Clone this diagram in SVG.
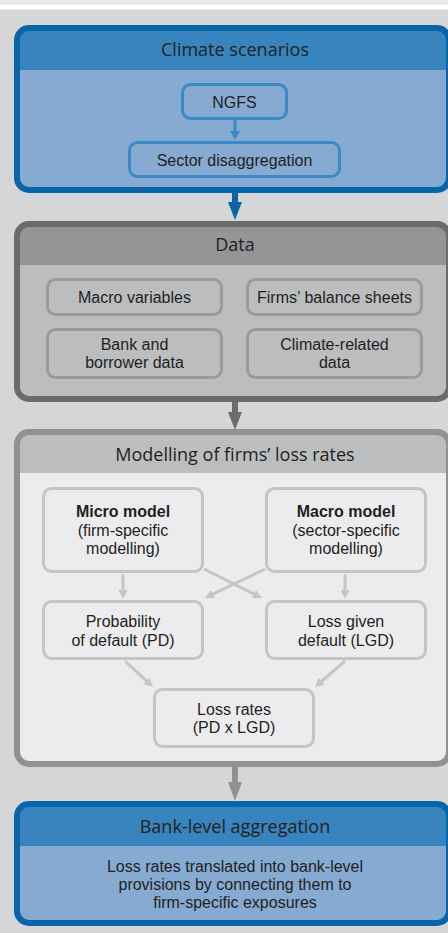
<svg xmlns="http://www.w3.org/2000/svg" width="448" height="933" viewBox="0 0 448 933">
<style>
text{font-family:"Liberation Sans",Arial,sans-serif;fill:#231f20;text-anchor:middle}
.t{font-family:"Open Sans","Noto Sans",sans-serif;font-size:18px}
.b{font-size:16px}
.s{font-weight:bold}
.blue-in{fill:#87aad3;stroke:#3a8ac8;stroke-width:3}
.gray-in{fill:#bcbdbf;stroke:#9a9b9d;stroke-width:3}
.light-in{fill:#ececee;stroke:#c4c5c7;stroke-width:3}
.inner{stroke:#c4c5c7;stroke-width:3;fill:none;marker-end:url(#ah)}
</style>
<defs>
<marker id="ah" viewBox="0 0 10 10" markerUnits="userSpaceOnUse" markerWidth="9" markerHeight="9" refX="4" refY="5" orient="auto">
<path d="M0,0 L10,5 L0,10 z" fill="#c4c5c7"/>
</marker>
</defs>
<rect x="0" y="0" width="448" height="933" fill="#d5d6d8"/>
<rect x="0" y="0" width="448" height="5" fill="#e9e9eb"/>
<rect x="0" y="5" width="448" height="4.5" fill="#ffffff"/>

<g id="climate-scenarios">
<rect x="17" y="28" width="432" height="162" rx="12" fill="#87aad3"/>
<path d="M17,70 V40 A12,12 0 0 1 29,28 H437 A12,12 0 0 1 449,40 V70 Z" fill="#3784be"/>
<rect x="17" y="28" width="432" height="162" rx="12" fill="none" stroke="#0a64a8" stroke-width="6"/>
<text class="t" x="235" y="56">Climate scenarios</text>
</g>
<g id="ngfs">
<rect class="blue-in" x="182.5" y="84.5" width="104" height="34" rx="8"/>
<text class="b" x="234.5" y="108">NGFS</text>
</g>
<g id="sector-disaggregation">
<rect class="blue-in" x="129.5" y="142.5" width="210" height="34" rx="8"/>
<text class="b" x="234.5" y="166">Sector disaggregation</text>
</g>

<g id="data">
<rect x="17" y="224" width="432" height="175" rx="12" fill="#bcbdbf"/>
<path d="M17,265 V236 A12,12 0 0 1 29,224 H437 A12,12 0 0 1 449,236 V265 Z" fill="#949597"/>
<rect x="17" y="224" width="432" height="175" rx="12" fill="none" stroke="#6a6b6d" stroke-width="6"/>
<text class="t" x="235" y="251">Data</text>
</g>
<g id="macro-variables">
<rect class="gray-in" x="47.5" y="279.5" width="174" height="35" rx="8"/>
<text class="b" x="134.5" y="303">Macro variables</text>
</g>
<g id="firms-balance-sheets">
<rect class="gray-in" x="247.5" y="279.5" width="174" height="35" rx="8"/>
<text class="b" x="334.5" y="303">Firms’ balance sheets</text>
</g>
<g id="bank-borrower-data">
<rect class="gray-in" x="47.5" y="329.5" width="174" height="48" rx="8"/>
<text class="b" x="134.5" y="350">Bank and</text>
<text class="b" x="134.5" y="368">borrower data</text>
</g>
<g id="climate-related-data">
<rect class="gray-in" x="247.5" y="329.5" width="174" height="48" rx="8"/>
<text class="b" x="334.5" y="350">Climate-related</text>
<text class="b" x="334.5" y="368">data</text>
</g>

<g id="modelling">
<rect x="17" y="432" width="432" height="332" rx="12" fill="#ececee"/>
<path d="M17,473 V444 A12,12 0 0 1 29,432 H437 A12,12 0 0 1 449,444 V473 Z" fill="#bcbdbf"/>
<rect x="17" y="432" width="432" height="332" rx="12" fill="none" stroke="#909193" stroke-width="6"/>
<text class="t" x="235" y="461">Modelling of firms’ loss rates</text>
</g>
<g id="micro-model">
<rect class="light-in" x="43.5" y="488.5" width="159" height="83" rx="8"/>
<text class="b s" x="123" y="517">Micro model</text>
<text class="b" x="123" y="535.5">(firm-specific</text>
<text class="b" x="123" y="554">modelling)</text>
</g>
<g id="macro-model">
<rect class="light-in" x="266.5" y="488.5" width="159" height="83" rx="8"/>
<text class="b s" x="346" y="517">Macro model</text>
<text class="b" x="346" y="535.5">(sector-specific</text>
<text class="b" x="346" y="554">modelling)</text>
</g>
<g id="pd">
<rect class="light-in" x="43.5" y="601.5" width="159" height="57" rx="8"/>
<text class="b" x="123" y="627">Probability</text>
<text class="b" x="123" y="646">of default (PD)</text>
</g>
<g id="lgd">
<rect class="light-in" x="266.5" y="601.5" width="159" height="57" rx="8"/>
<text class="b" x="346" y="627">Loss given</text>
<text class="b" x="346" y="646">default (LGD)</text>
</g>
<g id="loss-rates">
<rect class="light-in" x="154.5" y="689.5" width="159" height="57" rx="8"/>
<text class="b" x="234" y="715">Loss rates</text>
<text class="b" x="234" y="733">(PD x LGD)</text>
</g>

<g id="bank-level-aggregation">
<rect x="17" y="804" width="432" height="119" rx="12" fill="#87aad3"/>
<path d="M17,846 V816 A12,12 0 0 1 29,804 H437 A12,12 0 0 1 449,816 V846 Z" fill="#3784be"/>
<rect x="17" y="804" width="432" height="119" rx="12" fill="none" stroke="#0a64a8" stroke-width="6"/>
<text class="t" x="235" y="833">Bank-level aggregation</text>
<text class="b" x="235" y="872">Loss rates translated into bank-level</text>
<text class="b" x="235" y="890">provisions by connecting them to</text>
<text class="b" x="235" y="908">firm-specific exposures</text>
</g>

<g id="connectors">
<line x1="235" y1="120" x2="235" y2="132" stroke="#3a8ac8" stroke-width="3"/>
<polygon points="230,131 240,131 235,140" fill="#3a8ac8"/>
<line x1="235" y1="193" x2="235" y2="203" stroke="#0a64a8" stroke-width="6"/>
<polygon points="228,202 242,202 235,220" fill="#0a64a8"/>
<line x1="235" y1="402" x2="235" y2="413" stroke="#6a6b6d" stroke-width="6"/>
<polygon points="228,412 242,412 235,430" fill="#6a6b6d"/>
<line x1="235" y1="767" x2="235" y2="783" stroke="#909193" stroke-width="6"/>
<polygon points="228,782 242,782 235,801" fill="#909193"/>
<line class="inner" x1="123" y1="574.5" x2="123" y2="593.6"/>
<line class="inner" x1="345" y1="574.5" x2="345" y2="593.6"/>
<line class="inner" x1="204" y1="569" x2="257.2" y2="595.6"/>
<line class="inner" x1="265" y1="569" x2="209.9" y2="595.6"/>
<line class="inner" x1="125" y1="661" x2="149.1" y2="683.3"/>
<line class="inner" x1="345" y1="661" x2="319" y2="683.4"/>
</g>
</svg>
